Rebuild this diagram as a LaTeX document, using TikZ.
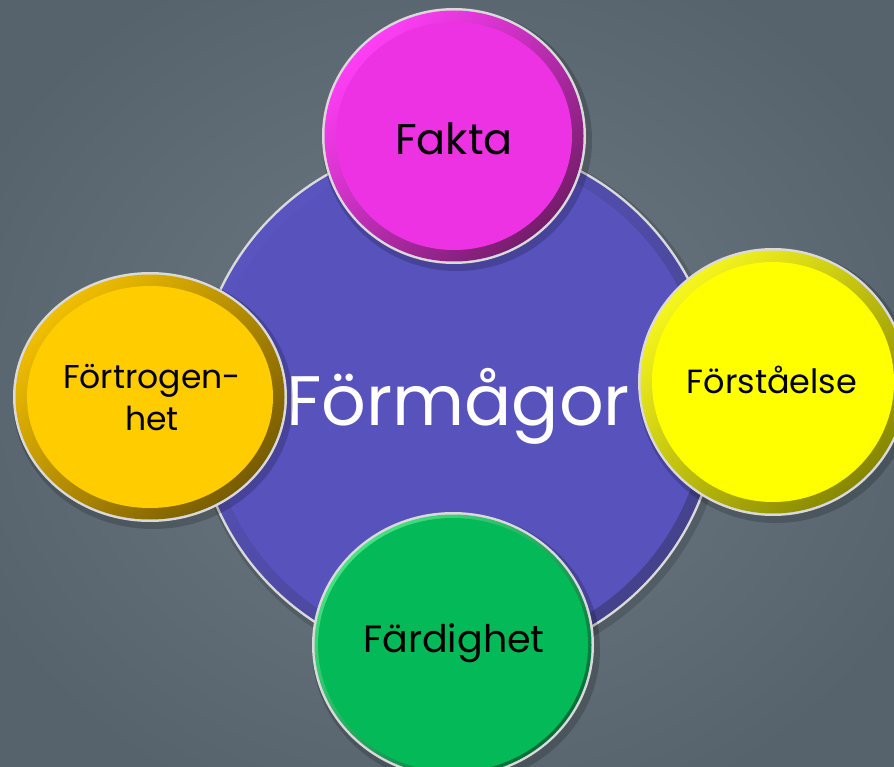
\documentclass[tikz,border=0pt]{standalone}
\usepackage{fontspec}
\setmainfont{Poppins}
\usetikzlibrary{positioning}
\definecolor{bgmid}{RGB}{112,124,132}
\definecolor{bgedge}{RGB}{86,98,108}
\definecolor{rimgray}{RGB}{218,218,218}
\definecolor{mypurple}{RGB}{88,82,188}
\definecolor{mypurplelight}{RGB}{90,84,192}
\definecolor{mypurpledark}{RGB}{68,66,140}
\definecolor{mymagenta}{RGB}{236,50,226}
\definecolor{mymagentalight}{RGB}{255,62,246}
\definecolor{mymagentadark}{RGB}{118,28,108}
\definecolor{myyellow}{RGB}{255,255,0}
\definecolor{myyellowlight}{RGB}{245,245,30}
\definecolor{myyellowdark}{RGB}{135,135,0}
\definecolor{myorange}{RGB}{255,204,0}
\definecolor{myorangelight}{RGB}{240,190,0}
\definecolor{myorangedark}{RGB}{120,92,0}
\definecolor{mygreen}{RGB}{4,186,88}
\definecolor{mygreenlight}{RGB}{70,225,130}
\definecolor{mygreendark}{RGB}{0,110,55}

\begin{document}
\begin{tikzpicture}[x=1pt,y=-1pt,
  word/.style={text=black,align=center,inner sep=0pt}]
  \useasboundingbox (0,0) rectangle (894,767);
  \shade[inner color=bgmid,outer color=bgedge] (-80,-80) rectangle (974,847);

  % centre circle
  \fill[black,opacity=.15] (460,406) circle (266);
  \fill[rimgray] (457,402) circle (263);
  \shade[top color=mypurplelight,bottom color=mypurpledark,shading angle=45] (457,402) circle (260.5);
  \fill[mypurple] (457,402) circle (249);
  \node[word,text=white,font=\fontsize{70}{76}\selectfont,anchor=base] (formagor) at (458,425) {Förmågor};

  % the four around it
  \foreach \cx/\cy/\rx/\ry/\w/\col in {454/136/132/128/14/mymagenta, 773/382/135/134/14/myyellow,
      150/397/137/125/14/myorange, 453/645/141/133/6/mygreen}
  {
    \fill[black,opacity=.18] (\cx+3,\cy+4) ellipse ({\rx+3} and {\ry+3});
    \fill[rimgray] (\cx,\cy) ellipse ({\rx} and {\ry});
    \shade[top color=\col light,bottom color=\col dark,shading angle=45] (\cx,\cy) ellipse ({\rx-2.5} and {\ry-2.5});
    \fill[\col] (\cx,\cy) ellipse ({\rx-\w} and {\ry-\w});
  }
  \node[word,font=\fontsize{43}{46}\selectfont,anchor=base] (fakta) at (454,155) {Fakta};
  \node[word,font=\fontsize{33.5}{40}\selectfont,anchor=base] (forstaelse) at (772,393) {Förståelse};
  \node[word,font=\fontsize{38}{42}\selectfont,anchor=base] (fardighet) at (454,652) {Färdighet};
  \node[word,font=\fontsize{33}{42}\selectfont] (fortrogenhet) at (152,398) {Förtrogen-\\het};
\end{tikzpicture}
\end{document}
